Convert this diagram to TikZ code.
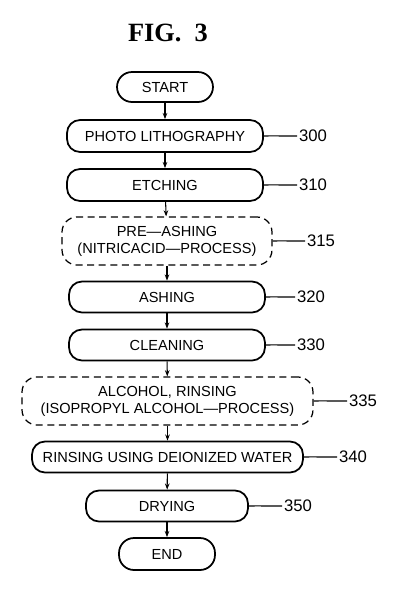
\documentclass[tikz,border=0pt]{standalone}
\usepackage{fontspec}
\usepackage{tikz}
\usetikzlibrary{arrows.meta}
\newfontfamily\boxfont[Ligatures=TeX]{Liberation Sans}
\newfontfamily\figfont{Liberation Serif}

\begin{document}
\begin{tikzpicture}[x=0.02cm, y=-0.02cm, >={Stealth[length=3.5pt,width=2.6pt]},
  stepbox/.style={draw, line width=1pt, rectangle, rounded corners=0.26cm,
    minimum width=3.92cm, minimum height=0.64cm, inner sep=1pt, align=center,
    font=\boxfont\fontsize{8.3}{9.6}\selectfont},
  optbox/.style={stepbox, dash pattern=on 4pt off 2.6pt, line width=0.7pt,
    minimum height=0.96cm, rounded corners=0.3cm},
  refnum/.style={anchor=west, inner sep=1pt, font=\boxfont\fontsize{9.5}{10}\selectfont},
  leader/.style={line width=0.6pt},
  flow/.style={->, line width=0.6pt}]

\useasboundingbox (0,0) rectangle (400,599);

% title
\node[font=\figfont\bfseries\fontsize{15}{16}\selectfont] (title) at (168,33) {FIG.~~3};

% steps of the process, top to bottom
\node[stepbox, minimum width=1.92cm, minimum height=0.6cm, rounded corners=0.3cm] (start) at (165,87) {START};
\node[stepbox] (litho) at (165,136) {PHOTO LITHOGRAPHY};
\node[stepbox] (etch)  at (165,185) {ETCHING};
\node[optbox, minimum width=4.2cm] (preash) at (167,241) {PRE---ASHING\\(NITRICACID---PROCESS)};
\node[stepbox, minimum height=0.62cm] (ash)   at (167,297) {ASHING};
\node[stepbox, minimum height=0.62cm] (clean) at (167,345) {CLEANING};
\node[optbox, minimum width=5.82cm] (alcohol) at (167.5,401) {ALCOHOL, RINSING\\(ISOPROPYL ALCOHOL---PROCESS)};
\node[stepbox, minimum width=5.42cm, minimum height=0.62cm] (diw) at (167.5,457) {RINSING USING DEIONIZED WATER};
\node[stepbox, minimum width=3.24cm, minimum height=0.62cm] (dry) at (167,506) {DRYING};
\node[stepbox, minimum width=1.92cm, rounded corners=0.3cm] (finish) at (167,554) {END};

% reference numerals
\node[refnum] (n300) at (297,136) {300};
\node[refnum] (n310) at (297,185) {310};
\node[refnum] (n315) at (305,241) {315};
\node[refnum] (n320) at (295,297) {320};
\node[refnum] (n330) at (295,345) {330};
\node[refnum] (n335) at (347,401) {335};
\node[refnum] (n340) at (337,457) {340};
\node[refnum] (n350) at (282,506) {350};

% leaders
\foreach \b/\n in {litho/n300, etch/n310, preash/n315, ash/n320,
                   clean/n330, alcohol/n335, diw/n340, dry/n350}
  \draw[leader] (\b.east) .. controls +(0.25,-0.08) and +(-0.25,0) .. (\n.west);

% flow arrows
\draw[flow] (start)   -- (litho);
\draw[flow] (litho)   -- (etch);
\draw[flow] (etch)    -- (preash);
\draw[flow] (preash)  -- (ash);
\draw[flow] (ash)     -- (clean);
\draw[flow] (clean)   -- (alcohol);
\draw[flow] (alcohol) -- (diw);
\draw[flow] (diw)     -- (dry);
\draw[flow] (dry)     -- (finish);

\end{tikzpicture}
\end{document}
